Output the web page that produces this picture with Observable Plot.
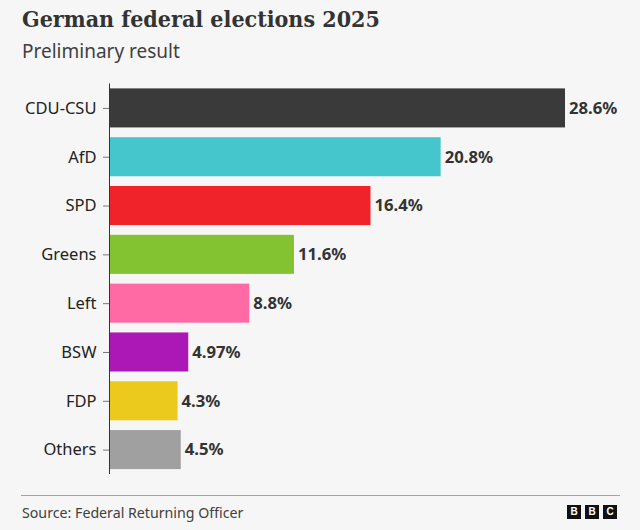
<!DOCTYPE html>
<html><head><meta charset="utf-8">
<script src="https://cdn.jsdelivr.net/npm/d3@7"></script>
<script src="https://cdn.jsdelivr.net/npm/@observablehq/plot@0.6"></script>
<style>
html,body{margin:0;padding:0;background:#f6f6f6;width:640px;height:530px;overflow:hidden}
#wrap{position:relative;width:640px;height:530px;font-family:"Noto Sans",sans-serif;color:#333}
#title{position:absolute;left:22px;top:4px;font:bold 23px "DejaVu Serif Condensed","DejaVu Serif",serif;font-stretch:condensed;color:#333;line-height:30px;white-space:nowrap}
#sub{position:absolute;left:22px;top:39px;font-size:19px;line-height:25px;color:#404040;white-space:nowrap}
#chart{position:absolute;left:0;top:70px}
#line{position:absolute;left:21px;top:494.5px;width:599px;height:1px;background:#a3a3a3}
#src{position:absolute;left:22px;top:503px;font-size:14.2px;line-height:20px;color:#404040;white-space:nowrap}
.b{position:absolute;top:505px;width:14px;height:14px;background:#111;color:#fff;font:bold 10px/14px "Liberation Sans",sans-serif;text-align:center}
</style></head><body>
<div id="wrap">
<div id="title">German federal elections 2025</div>
<div id="sub">Preliminary result</div>
<div id="chart"></div>
<div id="line"></div>
<div id="src">Source: Federal Returning Officer</div>
<div class="b" style="left:567px">B</div><div class="b" style="left:585px">B</div><div class="b" style="left:603px">C</div>
</div>
<script>
const parties = ["CDU-CSU","AfD","SPD","Greens","Left","BSW","FDP","Others"];
const shares = [28.6,20.8,16.4,11.6,8.8,4.97,4.3,4.5];
const colours = ["#3a3a3a","#45c6cc","#f0222a","#83c332","#ff69a4","#ab18b6","#ecc91d","#a0a0a0"];
const rows = parties.map((party,i)=>({party,share:shares[i],colour:colours[i]}));
const plot = Plot.plot({
  width:640,height:415,
  marginLeft:109,marginRight:75,marginTop:13.5,marginBottom:11,
  style:{background:"transparent",fontFamily:'"Noto Sans",sans-serif',overflow:"visible"},
  x:{domain:[0,28.6],axis:null},
  y:{domain:parties,paddingInner:0.2,paddingOuter:0.1,round:false,label:null},
  marks:[
    Plot.barX(rows,{x:"share",y:"party",fill:"colour"}),
    Plot.axisY({domain:parties,label:null,tickSize:6,tickPadding:7,fontSize:16.5,stroke:"#777",fill:"#222"}),
    Plot.ruleX([0],{stroke:"#333",strokeWidth:1}),
    Plot.text(rows,{x:"share",y:"party",text:d=>d.share+"%",textAnchor:"start",dx:3.5,fontSize:16.7,fontWeight:"bold",fill:"#333"})
  ]
});
document.getElementById("chart").appendChild(plot);
</script>
</body></html>
